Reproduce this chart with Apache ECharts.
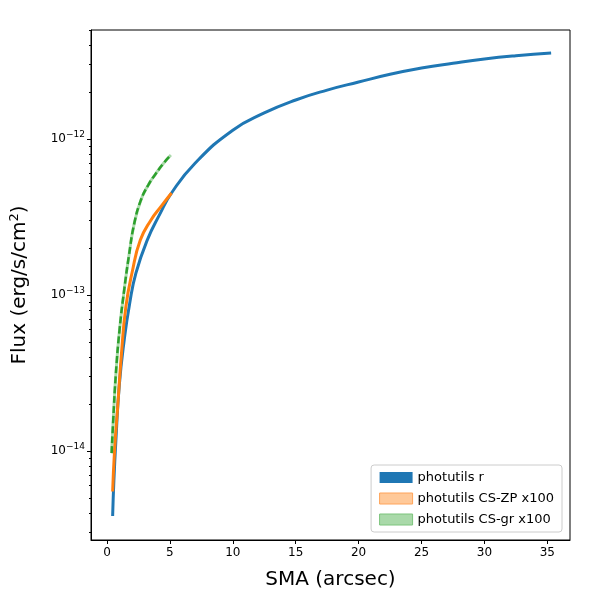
<!DOCTYPE html>
<html>
<head>
<meta charset="utf-8">
<script src="https://cdn.jsdelivr.net/npm/echarts@6/dist/echarts.min.js"></script>
<style>html,body{margin:0;padding:0;background:#fff}#chart{width:600px;height:600px}</style>
</head>
<body>
<div id="chart"></div>
<script>
// 曲线数据
var blueSma = [0.45, 0.55, 0.71, 0.98, 1.37, 1.8, 2.3, 3.2, 4.2, 5.13, 7, 10, 12.5, 15, 17.5, 20, 22.5, 25, 27.5, 30, 32.5, 35.3];
var blueFlux = [3.83e-15, 6.5e-15, 1.18e-14, 2.65e-14, 5.15e-14, 8.8e-14, 1.38e-13, 2.25e-13, 3.3e-13, 4.51e-13, 7.0e-13, 1.14e-12, 1.47e-12, 1.78e-12, 2.06e-12, 2.32e-12, 2.6e-12, 2.85e-12, 3.06e-12, 3.26e-12, 3.42e-12, 3.56e-12];
var zpSma = [0.45, 0.6, 0.85, 1.15, 1.5, 2.0, 2.65, 3.5, 4.3, 5.13];
var zpFlux = [5.5e-15, 1.0e-14, 1.92e-14, 4.2e-14, 8.4e-14, 1.4e-13, 2.25e-13, 3.03e-13, 3.7e-13, 4.51e-13];
var grSma = [0.37, 0.5, 0.71, 1.0, 1.37, 1.75, 2.17, 2.7, 3.3, 3.9, 4.5, 5.08];
var grFlux = [9.7e-15, 1.6e-14, 3.15e-14, 6.0e-14, 1.08e-13, 1.8e-13, 2.88e-13, 4.07e-13, 5.1e-13, 6.03e-13, 7.0e-13, 7.9e-13];
var xTicks = [0, 5, 10, 15, 20, 25, 30, 35];
var yTicks = [1e-14, 1e-13, 1e-12];
var yMinor = [];
[-15, -14, -13, -12].forEach(function(e) {
	for (var k = 2; k <= 9; k++) yMinor.push(k * Math.pow(10, e));
});

function pairs(xs, ys) {
	return xs.map(function(x, i) { return [x, ys[i]]; });
}

var yMin = 2.69e-15, yMax = 5.0e-12;
var chart = echarts.init(document.getElementById('chart'));
var font = 'DejaVu Sans';
chart.setOption({
	animation: false,
	textStyle: { fontFamily: font },
	grid: { left: 90, right: 30, top: 30, bottom: 60, show: true, borderColor: '#000', borderWidth: 1 },
	xAxis: {
		type: 'value', min: -1.27, max: 36.8,
		name: 'SMA (arcsec)', nameLocation: 'middle', nameGap: 30,
		nameTextStyle: { fontSize: 20, color: '#000', fontFamily: font },
		axisLine: { show: true, onZero: false, lineStyle: { color: '#000' } },
		axisTick: { show: true, length: 4, customValues: xTicks, lineStyle: { color: '#000' } },
		axisLabel: { customValues: xTicks, color: '#000', fontSize: 12, margin: 7 },
		splitLine: { show: false }
	},
	yAxis: [{
		type: 'log', min: yMin, max: yMax,
		name: '{n|Flux (erg/s/cm}{s|2}{n|)}', nameLocation: 'middle', nameGap: 60,
		nameTextStyle: {
			color: '#000', fontFamily: font,
			rich: {
				n: { fontSize: 20, color: '#000', fontFamily: font },
				s: { fontSize: 13, color: '#000', fontFamily: font, padding: [0, 0, 10, 0] }
			}
		},
		axisLine: { show: true, onZero: false, lineStyle: { color: '#000' } },
		axisTick: { show: true, length: 4, customValues: yTicks, lineStyle: { color: '#000' } },
		axisLabel: {
			customValues: yTicks, color: '#000', margin: 6,
			formatter: function(v) {
				return '{b|10}{sup|−' + Math.round(-Math.log10(v)) + '}';
			},
			rich: {
				b: { fontSize: 12, color: '#000', fontFamily: font },
				sup: { fontSize: 9, color: '#000', fontFamily: font, padding: [0, 0, 8, 0] }
			}
		},
		splitLine: { show: false }
	}, {
		type: 'log', min: yMin, max: yMax, position: 'left',
		axisLine: { show: false, onZero: false },
		axisTick: { show: true, length: 2, customValues: yMinor, lineStyle: { color: '#000' } },
		axisLabel: { show: false },
		splitLine: { show: false }
	}],
	legend: {
		right: 38, bottom: 68, orient: 'vertical', icon: 'rect',
		itemWidth: 33, itemHeight: 11, itemGap: 8,
		padding: [6, 8, 6, 8],
		borderColor: '#ccc', borderWidth: 1, borderRadius: 3, backgroundColor: 'rgba(255,255,255,0.8)',
		textStyle: { fontSize: 13, color: '#000', fontFamily: font },
		data: [
			{ name: 'photutils r', itemStyle: { color: '#1f77b4' } },
			{ name: 'photutils CS-ZP x100', itemStyle: { color: '#ffc999', borderColor: '#ffa45a', borderWidth: 1 } },
			{ name: 'photutils CS-gr x100', itemStyle: { color: '#a9d9a9', borderColor: '#7cc47c', borderWidth: 1 } }
		]
	},
	series: [{
		name: 'photutils r', type: 'line', smooth: true, showSymbol: false,
		data: pairs(blueSma, blueFlux),
		lineStyle: { color: '#1f77b4', width: 3 }, itemStyle: { color: '#1f77b4' }
	}, {
		name: 'photutils CS-ZP x100', type: 'line', smooth: true, showSymbol: false,
		data: pairs(zpSma, zpFlux),
		lineStyle: { color: '#ff7f0e', width: 3 }, itemStyle: { color: '#ff7f0e' }
	}, {
		name: 'gr band', type: 'line', smooth: true, showSymbol: false,
		data: pairs(grSma, grFlux),
		lineStyle: { color: '#2ca02c', width: 3, opacity: 0.4 }
	}, {
		name: 'photutils CS-gr x100', type: 'line', smooth: true, showSymbol: false,
		data: pairs(grSma, grFlux),
		lineStyle: { color: '#2ca02c', width: 2.5, type: [7, 3] }, itemStyle: { color: '#2ca02c' }
	}]
});
</script>
</body>
</html>
